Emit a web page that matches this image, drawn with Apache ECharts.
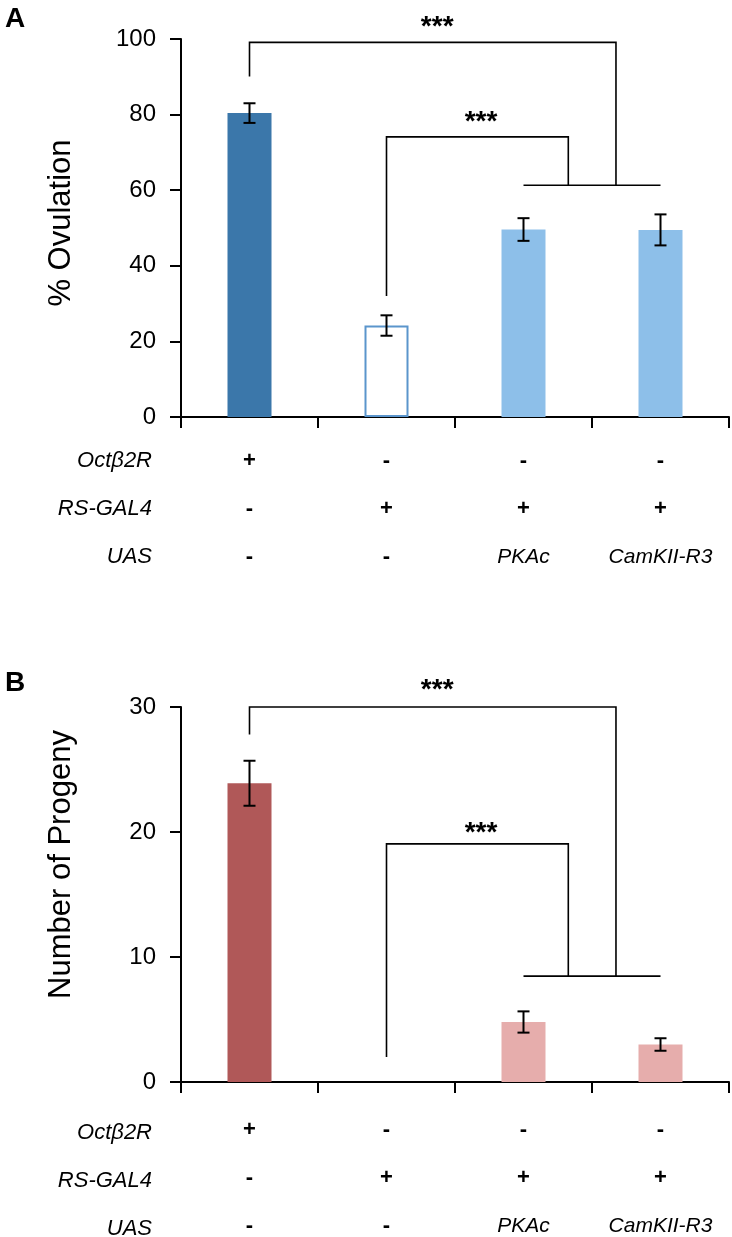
<!DOCTYPE html>
<html>
<head>
<meta charset="utf-8">
<script src="https://cdn.jsdelivr.net/npm/echarts@6/dist/echarts.min.js"></script>
<style>
html,body{margin:0;padding:0;background:#fff;}
#chart{width:732px;height:1237px;}
</style>
</head>
<body>
<div id="chart"></div>
<script>
// ---- data ----
const categories = ['Octβ2R/+', 'RS-GAL4/+', 'RS>PKAc', 'RS>CamKII-R3'];
const rowNames = ['Octβ2R', 'RS-GAL4', 'UAS'];
const rowOct = ['+', '-', '-', '-'];
const rowRS = ['-', '+', '+', '+'];
const rowUAS = ['-', '-', 'PKAc', 'CamKII-R3'];

const ovulation = [80.4, 24.2, 49.6, 49.5];
const ovulationErr = [2.6, 2.7, 3.0, 4.1];
const progeny = [23.9, 0, 4.8, 3.0];
const progenyErr = [1.8, 0, 0.85, 0.5];

const ovulationTicks = { min: 0, max: 100, interval: 20 };
const progenyTicks = { min: 0, max: 30, interval: 10 };

// significance brackets, in (category position, value) coordinates
const bracketsA = [
  [[0, 90.1], [0, 99.1], [2.675, 99.1], [2.675, 61.3]],
  [[1, 32.0], [1, 74.1], [2.327, 74.1], [2.327, 61.3]],
  [[2, 61.3], [3, 61.3]]
];
const starsA = [[1.37, 103.2], [1.69, 78.0]];
const bracketsB = [
  [[0, 27.8], [0, 30.0], [2.675, 30.0], [2.675, 8.47]],
  [[1, 2.0], [1, 19.05], [2.327, 19.05], [2.327, 8.47]],
  [[2, 8.47], [3, 8.47]]
];
const starsB = [[1.37, 31.3], [1.69, 19.9]];
const starText = '***';

// ---- styles ----
const FONT = 'Liberation Sans, Arial, Helvetica, sans-serif';
const colorsA = ['#3b77aa', '#ffffff', '#8dbfe9', '#8dbfe9'];
const bordersA = ['#3b77aa', '#5b95cc', '#8dbfe9', '#8dbfe9'];
const borderWA = [0, 2, 0, 0];
const colorsB = ['#b05858', '#ffffff', '#e6adac', '#e6adac'];
const borderWB = [0, 0, 0, 0];

const chart = echarts.init(document.getElementById('chart'), null, { renderer: 'canvas' });

const grids = [
  { left: 181, right: 3, top: 39, height: 378 },
  { left: 181, right: 3, top: 707, height: 378 }
];

function catAxis(gi, margin) {
  return {
    type: 'category', gridIndex: gi, data: categories,
    axisLine: { onZero: false, lineStyle: { color: '#000', width: 2 } },
    axisTick: { show: true, length: 11, lineStyle: { color: '#000', width: 2 } },
    axisLabel: {
      interval: 0, margin: margin, color: '#000', fontFamily: FONT,
      formatter: function (v, idx) {
        return [rowOct[idx], rowRS[idx], rowUAS[idx]].map(function (s) {
          return (s === '+' || s === '-') ? '{s|' + s + '}' : '{i|' + s + '}';
        }).join('\n');
      },
      rich: {
        s: { fontSize: 22, fontWeight: 'bold', lineHeight: 48, color: '#000', fontFamily: FONT },
        i: { fontSize: 21, lineHeight: 48, color: '#000', fontStyle: 'italic', fontFamily: FONT }
      }
    }
  };
}
function posAxis(gi) {
  return { type: 'value', gridIndex: gi, min: -0.5, max: 3.5, show: false,
    axisLine: { onZero: false } };
}
function valAxis(gi, t, name, pad) {
  return {
    type: 'value', gridIndex: gi, min: t.min, max: t.max, interval: t.interval,
    name: name, nameLocation: 'middle', nameGap: 104, nameRotate: 90,
    nameTextStyle: { fontSize: 31, color: '#000', fontFamily: FONT, padding: pad },
    axisLine: { show: true, onZero: false, lineStyle: { color: '#000', width: 2 } },
    axisTick: { show: true, length: 11, lineStyle: { color: '#000', width: 2 } },
    splitLine: { show: false },
    axisLabel: { fontSize: 24, color: '#000', margin: 25, fontFamily: FONT }
  };
}

function barSeries(gi, values, fills, borders, bw) {
  return {
    type: 'bar', xAxisIndex: gi * 2, yAxisIndex: gi, barWidth: 44,
    data: values.map(function (v, i) {
      return { value: v, itemStyle: { color: fills[i], borderColor: borders[i], borderWidth: bw[i] } };
    }),
    animation: false, silent: true
  };
}
function errSeries(gi, values, errs) {
  return {
    type: 'custom', xAxisIndex: gi * 2, yAxisIndex: gi, z: 5,
    data: values.map(function (v, i) { return [i, v, errs[i]]; }),
    renderItem: function (params, api) {
      const e = api.value(2);
      if (!e) return null;
      const x = api.value(0), v = api.value(1);
      const t = api.coord([x, v + e]), b = api.coord([x, v - e]);
      const hw = 6, st = { stroke: '#000', lineWidth: 2 };
      return { type: 'group', children: [
        { type: 'line', shape: { x1: t[0], y1: t[1], x2: b[0], y2: b[1] }, style: st },
        { type: 'line', shape: { x1: t[0] - hw, y1: t[1], x2: t[0] + hw, y2: t[1] }, style: st },
        { type: 'line', shape: { x1: b[0] - hw, y1: b[1], x2: b[0] + hw, y2: b[1] }, style: st }
      ] };
    },
    animation: false, silent: true
  };
}
function bracketSeries(gi, brackets) {
  return {
    type: 'custom', xAxisIndex: gi * 2 + 1, yAxisIndex: gi, clip: false, z: 4,
    data: brackets.map(function (b, i) { return [b[0][0], b[0][1], i]; }),
    renderItem: function (params, api) {
      const pts = brackets[params.dataIndex].map(function (p) { return api.coord(p); });
      return { type: 'polyline', shape: { points: pts },
        style: { stroke: '#000', lineWidth: 1.6, fill: null } };
    },
    animation: false, silent: true
  };
}
function starSeries(gi, stars) {
  return {
    type: 'custom', xAxisIndex: gi * 2 + 1, yAxisIndex: gi, clip: false, z: 6,
    data: stars,
    renderItem: function (params, api) {
      const p = api.coord([api.value(0), api.value(1)]);
      return { type: 'text', style: { text: starText, x: p[0], y: p[1],
        align: 'center', verticalAlign: 'middle', fill: '#000',
        font: 'bold 28px ' + FONT } };
    },
    animation: false, silent: true
  };
}

function rowLabelGraphics(axisY, offset) {
  return rowNames.map(function (n, i) {
    return { type: 'text', x: 152, y: axisY + offset + 48 * i,
      style: { text: n, font: 'italic 22px ' + FONT, fill: '#000', align: 'right', verticalAlign: 'middle' } };
  });
}

const option = {
  backgroundColor: '#fff',
  animation: false,
  grid: grids,
  xAxis: [catAxis(0, 20), posAxis(0), catAxis(1, 24), posAxis(1)],
  yAxis: [valAxis(0, ovulationTicks, '% Ovulation', [0, 0, 0, 10]),
          valAxis(1, progenyTicks, 'Number of Progeny', [0, 0, 0, 60])],
  series: [
    barSeries(0, ovulation, colorsA, bordersA, borderWA), errSeries(0, ovulation, ovulationErr),
    bracketSeries(0, bracketsA), starSeries(0, starsA),
    barSeries(1, progeny, colorsB, colorsB, borderWB), errSeries(1, progeny, progenyErr),
    bracketSeries(1, bracketsB), starSeries(1, starsB)
  ],
  graphic: [
    { type: 'text', x: 5, y: 5, style: { text: 'A', font: 'bold 28px ' + FONT, fill: '#000' } },
    { type: 'text', x: 5, y: 669, style: { text: 'B', font: 'bold 28px ' + FONT, fill: '#000' } }
  ].concat(rowLabelGraphics(417, 44), rowLabelGraphics(1085, 48))
};
chart.setOption(option);
</script>
</body>
</html>
